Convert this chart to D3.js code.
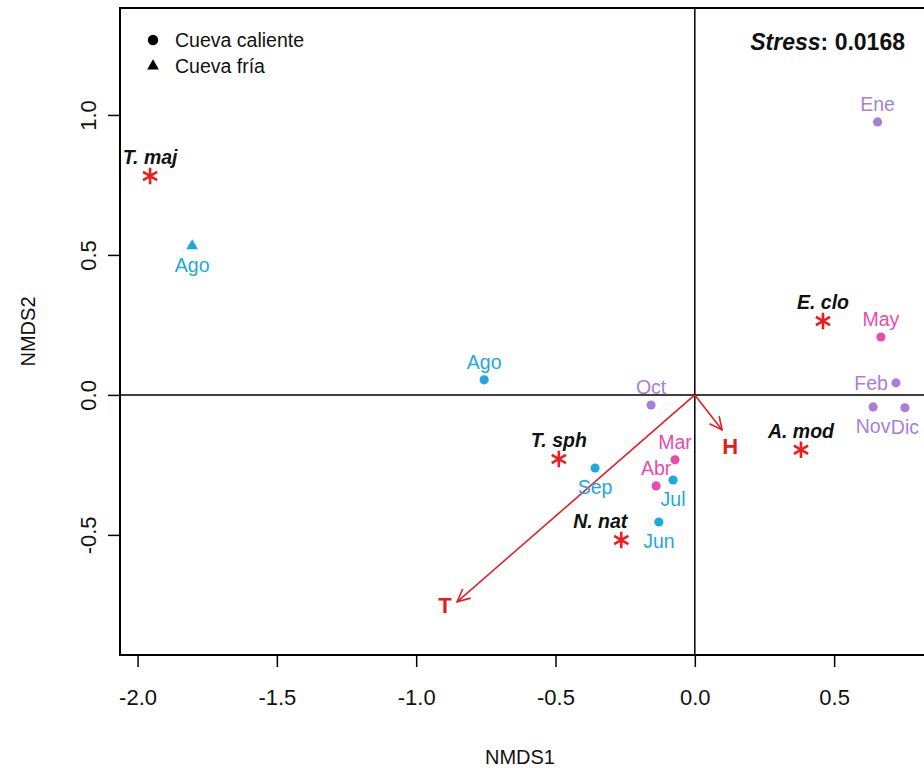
<!DOCTYPE html>
<html>
<head>
<meta charset="utf-8">
<script src="https://cdn.jsdelivr.net/npm/d3@7"></script>
<style>
  body { margin: 0; background: white; }
  svg { display: block; overflow: hidden; }
  text { font-family: "Liberation Sans", Arial, sans-serif; }
</style>
</head>
<body>
<div id="chart"></div>
<script>
/* NMDS ordination: sites (months), species and environmental vectors */

// sites (months), cave type and colour group
const siteNames = ["Ago", "Ago", "Oct", "Sep", "Mar", "Abr", "Jul", "Jun", "May", "Feb", "Nov", "Dic", "Ene"];
const siteCave  = ["fría", "caliente", "caliente", "caliente", "caliente", "caliente", "caliente",
                   "caliente", "caliente", "caliente", "caliente", "caliente", "caliente"];
const siteGroup = ["verano", "verano", "otoño", "verano", "primavera", "primavera", "verano",
                   "verano", "primavera", "otoño", "otoño", "otoño", "otoño"];
const siteX = [-1.804, -0.756, -0.157, -0.358, -0.071, -0.139, -0.078, -0.129, 0.668, 0.722, 0.640, 0.754, 0.656];
const siteY = [0.532, 0.054, -0.036, -0.261, -0.232, -0.325, -0.304, -0.454, 0.207, 0.043, -0.043, -0.046, 0.975];
const sitePos = ["below", "above", "above", "below", "above", "above", "below", "below", "above", "left", "below", "below", "above"];

// species scores
const speciesNames = ["T. maj", "T. sph", "N. nat", "A. mod", "E. clo"];
const speciesX = [-1.955, -0.488, -0.264, 0.381, 0.460];
const speciesY = [0.782, -0.229, -0.518, -0.196, 0.264];

// environmental vectors
const vecNames = ["T", "H"];
const vecX = [-0.853, 0.098];
const vecY = [-0.739, -0.125];
const vecLabelX = [-0.897, 0.127];
const vecLabelY = [-0.752, -0.183];

const xTicks = [-2.0, -1.5, -1.0, -0.5, 0.0, 0.5];
const yTicks = [-0.5, 0.0, 0.5, 1.0];
const stress = "0.0168";

const width = 924, height = 768;
const margin = { top: 8, right: -16, bottom: 113, left: 120 }; // right edge of the box falls outside the picture

const groupColor = { verano: "#1fa8de", primavera: "#e84cae", otoño: "#a87fd8" };

let svg = d3.select("#chart")
  .append("svg")
  .attr("width", width)
  .attr("height", height);

let x = d3.scaleLinear()
  .domain([-2.063, 0.88])
  .range([margin.left, width - margin.right]);

let y = d3.scaleLinear()
  .domain([-0.929, 1.382])
  .range([height - margin.bottom, margin.top]);

// axes
svg.append("g")
  .attr("transform", `translate(0,${height - margin.bottom})`)
  .call(d3.axisBottom(x).tickValues(xTicks).tickFormat(d => d.toFixed(1)).tickSize(12).tickPadding(22))
  .call(g => g.select(".domain").remove())
  .call(g => g.selectAll("line").attr("stroke", "#000").attr("stroke-width", 1.5))
  .call(g => g.selectAll("text").attr("font-size", 22).attr("fill", "#111")
    .style("font-family", "'Liberation Sans', Arial, sans-serif"));

svg.append("g")
  .attr("transform", `translate(${margin.left},0)`)
  .call(d3.axisLeft(y).tickValues(yTicks).tickFormat(d => d.toFixed(1)).tickSize(12))
  .call(g => g.select(".domain").remove())
  .call(g => g.selectAll("line").attr("stroke", "#000").attr("stroke-width", 1.5))
  .call(g => g.selectAll("text")
    .attr("transform", "rotate(-90)")
    .attr("x", 0).attr("y", -32).attr("dy", "0.35em")
    .attr("text-anchor", "middle")
    .attr("font-size", 22).attr("fill", "#111")
    .style("font-family", "'Liberation Sans', Arial, sans-serif"));

// axis titles
svg.append("text")
  .attr("x", 520).attr("y", 764)
  .attr("text-anchor", "middle")
  .attr("font-size", 20).attr("fill", "#111")
  .text("NMDS1");

svg.append("text")
  .attr("transform", `translate(28,${(y.range()[0] + y.range()[1]) / 2}) rotate(-90)`)
  .attr("dy", "0.35em")
  .attr("text-anchor", "middle")
  .attr("font-size", 20).attr("fill", "#111")
  .text("NMDS2");

// reference lines through the origin
svg.append("line")
  .attr("x1", x.range()[0]).attr("x2", x.range()[1])
  .attr("y1", y(0)).attr("y2", y(0))
  .attr("stroke", "#000").attr("stroke-width", 1.5);

svg.append("line")
  .attr("x1", x(0)).attr("x2", x(0))
  .attr("y1", y.range()[0]).attr("y2", y.range()[1])
  .attr("stroke", "#000").attr("stroke-width", 1.5);

// environmental arrows
const vectors = vecNames.map((n, i) => ({ name: n, x: vecX[i], y: vecY[i], lx: vecLabelX[i], ly: vecLabelY[i] }));

let arrow = svg.selectAll(".vec")
  .data(vectors)
  .join("g")
  .attr("class", "vec");

arrow.append("line")
  .attr("x1", x(0)).attr("y1", y(0))
  .attr("x2", d => x(d.x)).attr("y2", d => y(d.y))
  .attr("stroke", "#e02020").attr("stroke-width", 1.6);

arrow.append("path") // open arrow head
  .attr("d", d => {
    const x1 = x(d.x), y1 = y(d.y);
    const a = Math.atan2(y1 - y(0), x1 - x(0));
    const len = 14, spread = Math.PI / 7;
    const p1 = [x1 - len * Math.cos(a - spread), y1 - len * Math.sin(a - spread)];
    const p2 = [x1 - len * Math.cos(a + spread), y1 - len * Math.sin(a + spread)];
    return `M${p1}L${x1},${y1}L${p2}`;
  })
  .attr("fill", "none")
  .attr("stroke", "#e02020").attr("stroke-width", 1.6);

arrow.append("text")
  .attr("x", d => x(d.lx)).attr("y", d => y(d.ly))
  .attr("dy", "0.35em")
  .attr("text-anchor", "middle")
  .attr("font-size", 22).attr("font-weight", "bold")
  .attr("fill", "#e02020")
  .text(d => d.name);

// sites
const sites = siteNames.map((n, i) => ({
  name: n, cave: siteCave[i], group: siteGroup[i], x: siteX[i], y: siteY[i], pos: sitePos[i]
}));

let site = svg.selectAll(".site")
  .data(sites)
  .join("g")
  .attr("class", "site");

site.append("path")
  .attr("transform", d => `translate(${x(d.x)},${y(d.y)})`)
  .attr("d", d => d.cave === "fría"
    ? d3.symbol(d3.symbolTriangle, 60)()
    : d3.symbol(d3.symbolCircle, 66)())
  .attr("fill", d => groupColor[d.group]);

site.append("text")
  .attr("x", d => d.pos === "left" ? x(d.x) - 8 : x(d.x))
  .attr("y", d => d.pos === "above" ? y(d.y) - 11 : d.pos === "below" ? y(d.y) + 26 : y(d.y) + 7)
  .attr("text-anchor", d => d.pos === "left" ? "end" : "middle")
  .attr("font-size", 19.5)
  .attr("fill", d => groupColor[d.group])
  .text(d => d.name);

// species
const species = speciesNames.map((n, i) => ({ name: n, x: speciesX[i], y: speciesY[i] }));
const speciesLabelDx = { "N. nat": -21 };

let sp = svg.selectAll(".species")
  .data(species)
  .join("g")
  .attr("class", "species");

sp.append("path")
  .attr("transform", d => `translate(${x(d.x)},${y(d.y)})`)
  .attr("d", d3.symbol(d3.symbolAsterisk, 190)())
  .attr("fill", "none")
  .attr("stroke", "#ee1c1c").attr("stroke-width", 2.6);

sp.append("text")
  .attr("x", d => x(d.x) + (speciesLabelDx[d.name] || 0))
  .attr("y", d => y(d.y) - 12)
  .attr("text-anchor", "middle")
  .attr("font-size", 19.5).attr("font-weight", "bold").attr("font-style", "italic")
  .attr("fill", "#111")
  .text(d => d.name);

// plot box
svg.append("rect")
  .attr("x", x.range()[0]).attr("y", y.range()[1])
  .attr("width", x.range()[1] - x.range()[0])
  .attr("height", y.range()[0] - y.range()[1])
  .attr("fill", "none")
  .attr("stroke", "#000").attr("stroke-width", 2);

// legend
const legendItems = [["caliente", "Cueva caliente"], ["fría", "Cueva fría"]];
let legend = svg.selectAll(".legend")
  .data(legendItems)
  .join("g")
  .attr("class", "legend")
  .attr("transform", (d, i) => `translate(153,${40 + i * 26})`);

legend.append("path")
  .attr("d", d => d[0] === "fría" ? d3.symbol(d3.symbolTriangle, 60)() : d3.symbol(d3.symbolCircle, 85)())
  .attr("fill", "#000");

legend.append("text")
  .attr("x", 22).attr("dy", "0.36em")
  .attr("font-size", 19.5).attr("fill", "#111")
  .text(d => d[1]);

// stress
let st = svg.append("text")
  .attr("x", 905).attr("y", 50)
  .attr("text-anchor", "end")
  .attr("font-size", 23).attr("font-weight", "bold").attr("fill", "#111");
st.append("tspan").attr("font-style", "italic").text("Stress");
st.append("tspan").text(": " + stress);
</script>
</body>
</html>
